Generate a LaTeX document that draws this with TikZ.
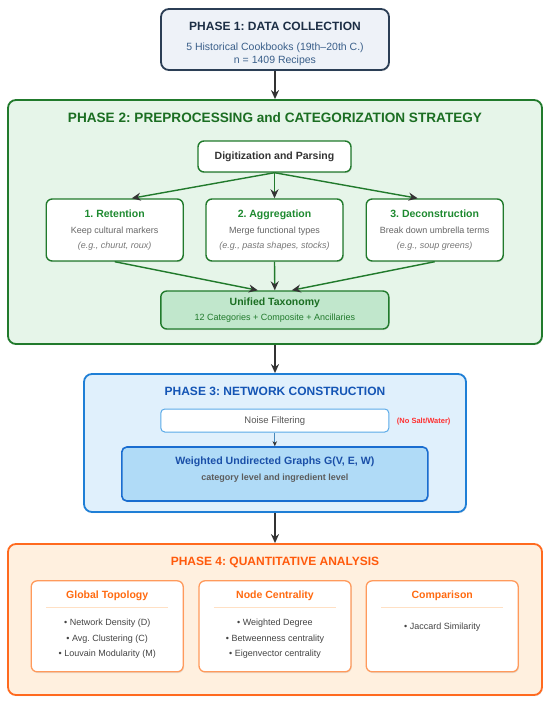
\documentclass[tikz,border=0pt]{standalone}
\usepackage{fontspec}
\setmainfont{Liberation Sans}
\usetikzlibrary{arrows.meta,shadows,calc}
\frenchspacing
\definecolor{arrowgray}{HTML}{333333}
\definecolor{p1border}{HTML}{2B3E55}
\definecolor{p1fill}{HTML}{EEF2F8}
\definecolor{p1title}{HTML}{1C2E45}
\definecolor{p1sub}{HTML}{3A5F8A}
\definecolor{p2border}{HTML}{217A2C}
\definecolor{p2fill}{HTML}{E6F5E9}
\definecolor{p2title}{HTML}{1B6E22}
\definecolor{p2head}{HTML}{1E8A30}
\definecolor{unifill}{HTML}{C1E7CC}
\definecolor{desc}{HTML}{666666}
\definecolor{descit}{HTML}{777777}
\definecolor{p3border}{HTML}{1F7FD6}
\definecolor{p3fill}{HTML}{E0F0FC}
\definecolor{p3title}{HTML}{1455B5}
\definecolor{noiseborder}{HTML}{5AAAE8}
\definecolor{graphfill}{HTML}{B0DBF7}
\definecolor{graphborder}{HTML}{1A6DD0}
\definecolor{graphtitle}{HTML}{1A4FA8}
\definecolor{nosalt}{HTML}{FF3030}
\definecolor{p4border}{HTML}{FF6A1F}
\definecolor{p4fill}{HTML}{FFF0DF}
\definecolor{p4title}{HTML}{FF5A0C}
\definecolor{p4sub}{HTML}{FF9A5C}
\definecolor{p4head}{HTML}{FF6A10}
\definecolor{p4sep}{HTML}{FFE0C4}
\definecolor{item}{HTML}{444444}
\begin{document}
\frenchspacing
\begin{tikzpicture}[x=1pt,y=-1pt,
  box/.style={draw, rounded corners=6pt, inner sep=0pt, line width=1.4pt},
  phase/.style={box, rounded corners=8pt, line width=1.8pt},
  shad/.style={drop shadow={opacity=0.18, shadow xshift=0.8pt, shadow yshift=-1.2pt}},
  lbl/.style={inner sep=0pt, anchor=mid},
  ptitle/.style={lbl, font=\bfseries\fontsize{12}{14}\selectfont},
  bhead/.style={lbl, font=\bfseries\fontsize{10.5}{12}\selectfont},
  btext/.style={lbl, font=\fontsize{9}{11}\selectfont},
  flow/.style={draw=arrowgray, line width=1.5pt, -{Stealth[length=9pt,width=8pt]}},
  gflow/.style={draw=p2border, line width=1.4pt, -{Stealth[length=9pt,width=8pt,color=arrowgray]}},
  subbox/.style={box, draw=p2border, fill=white, shad, minimum width=137pt, minimum height=62pt},
  qbox/.style={box, draw=p4sub, fill=white, line width=1.3pt, shad, minimum width=152pt, minimum height=91pt},
  sepline/.style={draw=p4sep, line width=0.8pt}
]
\useasboundingbox (0,0) rectangle (550,706);

% ---------- Phase 1
\node[phase, draw=p1border, fill=p1fill, shad, minimum width=228pt, minimum height=61pt] (p1) at (275,39.5) {};
\node[ptitle, text=p1title] (p1t) at (275,28) {PHASE 1: DATA COLLECTION};
\node[lbl, font=\fontsize{10.5}{12}\selectfont, text=p1sub] (p1s1) at (275,48) {5 Historical Cookbooks (19th–20th C.)};
\node[lbl, font=\fontsize{10.5}{12}\selectfont, text=p1sub] (p1s2) at (275,61) {n = 1409 Recipes};

% ---------- Phase 2
\node[phase, draw=p2border, fill=p2fill, shad, minimum width=534pt, minimum height=244pt] (p2) at (275,222) {};
\node[lbl, font=\bfseries\fontsize{13.6}{15}\selectfont, text=p2title] (p2t) at (275,120) {PHASE 2: PREPROCESSING and CATEGORIZATION STRATEGY};

\node[box, draw=p2border, fill=white, shad, minimum width=153pt, minimum height=31pt] (dig) at (274.5,156.5) {};
\node[bhead, text=arrowgray] (digt) at (274.5,157) {Digitization and Parsing};

\node[subbox] (ret) at (114.7,230) {};
\node[subbox] (agg) at (274.5,230) {};
\node[subbox] (dec) at (434.7,230) {};

\node[bhead, text=p2head] (rett) at (114.7,215) {1. Retention};
\node[btext, text=desc] (retd) at (114.7,231) {Keep cultural markers};
\node[btext, text=descit, font=\itshape\fontsize{9}{11}\selectfont] (rete) at (114.7,246) {(e.g., churut, roux)};

\node[bhead, text=p2head] (aggt) at (274.5,215) {2. Aggregation};
\node[btext, text=desc] (aggd) at (274.5,231) {Merge functional types};
\node[btext, text=descit, font=\itshape\fontsize{9}{11}\selectfont] (agge) at (274.5,246) {(e.g., pasta shapes, stocks)};

\node[bhead, text=p2head] (dect) at (434.7,215) {3. Deconstruction};
\node[btext, text=desc] (decd) at (434.7,231) {Break down umbrella terms};
\node[btext, text=descit, font=\itshape\fontsize{9}{11}\selectfont] (dece) at (434.7,246) {(e.g., soup greens)};

\node[box, draw=p2border, fill=unifill, shad, minimum width=228pt, minimum height=38pt] (uni) at (274.8,310) {};
\node[bhead, text=p2title] (unit) at (274.8,302.5) {Unified Taxonomy};
\node[btext, text=p2border] (unis) at (274.8,318) {12 Categories + Composite + Ancillaries};

\draw[gflow] (dig.south) -- ($(ret.north)+(17,0)$);
\draw[gflow] (dig.south) -- (agg.north);
\draw[gflow] (dig.south) -- ($(dec.north)+(-17,0)$);
\draw[gflow] (ret.south) -- ($(uni.north)+(-17,0)$);
\draw[gflow] (agg.south) -- (uni.north);
\draw[gflow] (dec.south) -- ($(uni.north)+(17,0)$);

% ---------- Phase 3
\node[phase, draw=p3border, fill=p3fill, shad, minimum width=382pt, minimum height=138pt] (p3) at (275,443) {};
\node[ptitle, text=p3title] (p3t) at (275,393) {PHASE 3: NETWORK CONSTRUCTION};
\node[box, draw=noiseborder, fill=white, line width=1pt, rounded corners=4pt, minimum width=228pt, minimum height=23pt] (noise) at (274.8,420.5) {};
\node[lbl, font=\fontsize{9.5}{11}\selectfont, text=desc!85!black] (noiset) at (274.8,421) {Noise Filtering};
\node[lbl, font=\bfseries\fontsize{7.5}{9}\selectfont, text=nosalt] (salt) at (423.7,421) {(No Salt/Water)};
\node[box, draw=graphborder, fill=graphfill, line width=1.6pt, rounded corners=5pt, shad, minimum width=306pt, minimum height=54pt] (graph) at (274.8,474) {};
\node[lbl, font=\bfseries\fontsize{10.6}{12}\selectfont, text=graphtitle] (grapht) at (274.8,462) {Weighted Undirected Graphs G(V, E, W)};
\node[lbl, font=\bfseries\fontsize{9}{11}\selectfont, text=desc!90!black] (graphs) at (274.8,478) {category level and ingredient level};
\draw[draw=noiseborder!80!black, line width=1pt, -{Stealth[length=5pt,width=4.5pt,color=arrowgray]}] (noise.south) -- (graph.north);

% ---------- Phase 4
\node[phase, draw=p4border, fill=p4fill, shad, minimum width=534pt, minimum height=151pt] (p4) at (275,619.5) {};
\node[ptitle, text=p4title] (p4t) at (275,563) {PHASE 4: QUANTITATIVE ANALYSIS};

\node[qbox] (gt) at (107.2,626.3) {};
\node[qbox] (nc) at (275,626.3) {};
\node[qbox] (cmp) at (442.2,626.3) {};

\node[bhead, text=p4head] (gth) at (107.2,596) {Global Topology};
\node[bhead, text=p4head] (nch) at (275,596) {Node Centrality};
\node[bhead, text=p4head] (cmph) at (442.2,596) {Comparison};

\draw[sepline] ($(gt.west)+(15.5,-18.8)$) -- ($(gt.east)+(-15.5,-18.8)$);
\draw[sepline] ($(nc.west)+(15.5,-18.8)$) -- ($(nc.east)+(-15.5,-18.8)$);
\draw[sepline] ($(cmp.west)+(15.5,-18.8)$) -- ($(cmp.east)+(-15.5,-18.8)$);

\node[btext, text=item] (gt1) at (107.2,623) {• Network Density (D)};
\node[btext, text=item] (gt2) at (107.2,639) {• Avg. Clustering (C)};
\node[btext, text=item] (gt3) at (107.2,654) {• Louvain Modularity (M)};

\node[btext, text=item] (nc1) at (275,623) {• Weighted Degree};
\node[btext, text=item] (nc2) at (275,639) {• Betweenness centrality};
\node[btext, text=item] (nc3) at (275,654) {• Eigenvector centrality};

\node[btext, text=item] (cmp1) at (442.2,627) {• Jaccard Similarity};

% ---------- Phase connectors
\draw[flow] (p1.south) -- (p2.north);
\draw[flow] (p2.south) -- (p3.north);
\draw[flow] (p3.south) -- (p4.north);
\end{tikzpicture}
\end{document}
